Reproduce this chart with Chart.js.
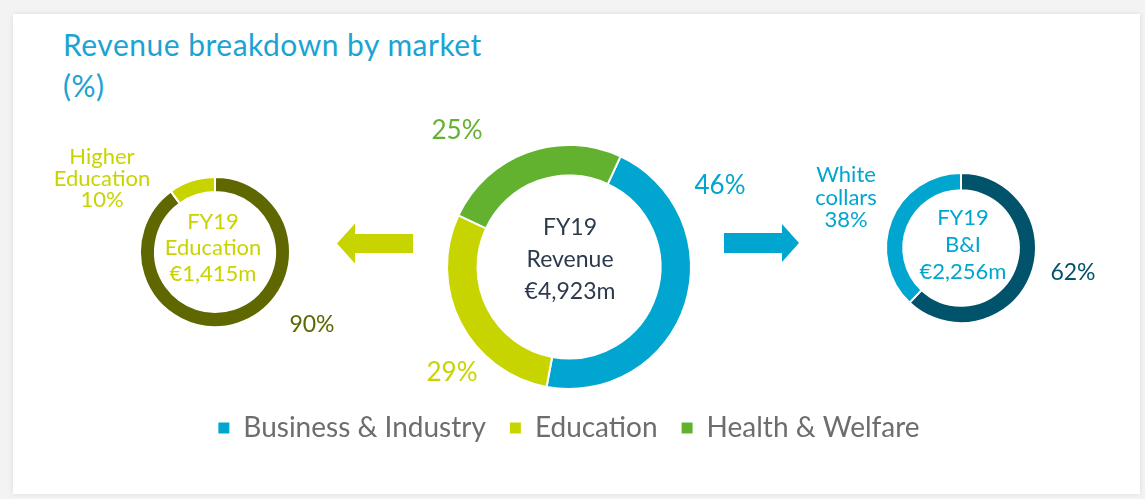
<!doctype html>
<html>

<head>
    <title>Revenue breakdown by market</title>
    <script src="https://cdn.jsdelivr.net/npm/chart.js@4/dist/chart.umd.min.js"></script>
    <style>
    html, body {
        margin: 0;
        padding: 0;
        width: 1145px;
        height: 499px;
        overflow: hidden;
        background: #f3f3f3;
        font-family: Lato, "Open Sans", sans-serif;
    }
    #card {
        position: absolute;
        left: 13px;
        top: 14px;
        width: 1127px;
        height: 480px;
        background: #fff;
        box-shadow: 0 0 5px rgba(0, 0, 0, 0.10);
    }
    #title {
        position: absolute;
        left: 63px;
        top: 24px;
        color: #1aa3d3;
        font-size: 30px;
        letter-spacing: 0.5px;
        line-height: 41px;
    }
    canvas {
        position: absolute;
    }
    </style>
</head>

<body>
    <div id="card"></div>
    <div id="title">Revenue breakdown by market<br>(%)</div>
    <canvas id="mainChart" width="1000" height="499" style="left:69px;top:0px"></canvas>
    <canvas id="eduChart" width="300" height="220" style="left:40px;top:140px"></canvas>
    <canvas id="bniChart" width="340" height="220" style="left:780px;top:140px"></canvas>
    <script>
    // FY19 revenue split by market (%)
    var marketLabels = ['Business & Industry', 'Education', 'Health & Welfare'];
    var marketShares = [46, 29, 25];
    var marketColors = ['#00a6cf', '#c8d400', '#63b22f'];

    // Education split (%)
    var eduLabels = ['Other', 'Higher Education'];
    var eduShares = [90, 10];
    var eduColors = ['#5e6700', '#c8d400'];

    // B&I split (%)
    var bniLabels = ['Other', 'White collars'];
    var bniShares = [62, 38];
    var bniColors = ['#00536a', '#00a6cf'];

    // revenue in € millions: total, education, B&I
    var revenueNames = ['Revenue', 'Education', 'B&I'];
    var revenueValues = [4923, 1415, 2256];

    var fontFamily = 'Lato, "Open Sans", sans-serif';

    function euro(v) {
        return '€' + v.toLocaleString('en-US') + 'm';
    }

    // draws text blocks and arrows relative to the doughnut centre
    var annotations = {
        id: 'annotations',
        afterDraw: function(chart, args, opts) {
            var arc = chart.getDatasetMeta(0).data[0];
            if (!arc) return;
            var cx = arc.x, cy = arc.y;
            var ctx = chart.ctx;
            ctx.save();
            (opts.arrows || []).forEach(function(a) {
                var y = cy + a.dy;
                ctx.fillStyle = a.color;
                ctx.beginPath();
                ctx.moveTo(cx + a.tail, y - a.body);
                ctx.lineTo(cx + a.base, y - a.body);
                ctx.lineTo(cx + a.base, y - a.head);
                ctx.lineTo(cx + a.tip, y);
                ctx.lineTo(cx + a.base, y + a.head);
                ctx.lineTo(cx + a.base, y + a.body);
                ctx.lineTo(cx + a.tail, y + a.body);
                ctx.closePath();
                ctx.fill();
            });
            ctx.textAlign = 'center';
            ctx.textBaseline = 'middle';
            (opts.items || []).forEach(function(item) {
                ctx.fillStyle = item.color;
                ctx.font = item.size + 'px ' + fontFamily;
                item.lines.forEach(function(line, i) {
                    ctx.fillText(line, cx + item.dx, cy + item.dy + i * item.lineHeight);
                });
            });
            ctx.restore();
        }
    };

    var defaultLabels = Chart.overrides.doughnut.plugins.legend.labels.generateLabels;

    new Chart(document.getElementById('mainChart'), {
        type: 'doughnut',
        data: {
            labels: marketLabels,
            datasets: [{
                data: marketShares,
                backgroundColor: marketColors,
                borderColor: '#ffffff',
                borderWidth: 2,
                hoverOffset: 0
            }]
        },
        options: {
            responsive: false,
            animation: false,
            cutout: '75%',
            rotation: 25,
            layout: {
                padding: { top: 144, bottom: 47, left: 0, right: 0 }
            },
            plugins: {
                tooltip: { enabled: false },
                legend: {
                    position: 'bottom',
                    labels: {
                        boxWidth: 11,
                        boxHeight: 11,
                        padding: 24,
                        color: '#6d6d6d',
                        font: { family: fontFamily, size: 28 },
                        generateLabels: function(chart) {
                            return defaultLabels(chart).map(function(l) {
                                l.lineWidth = 0;
                                return l;
                            });
                        }
                    }
                },
                annotations: {
                    items: [
                        { lines: ['FY19', revenueNames[0], euro(revenueValues[0])], dx: 1, dy: -39, lineHeight: 32, size: 23, color: '#2d3a4c' },
                        { lines: [marketShares[0] + '%'], dx: 151, dy: -81, lineHeight: 0, size: 26, color: marketColors[0] },
                        { lines: [marketShares[1] + '%'], dx: -117, dy: 106, lineHeight: 0, size: 26, color: marketColors[1] },
                        { lines: [marketShares[2] + '%'], dx: -112, dy: -136, lineHeight: 0, size: 26, color: marketColors[2] }
                    ],
                    arrows: [
                        { tail: -156, base: -214, tip: -232, dy: -23.5, body: 9.5, head: 20, color: marketColors[1] },
                        { tail: 155, base: 213, tip: 230, dy: -24, body: 10, head: 19, color: marketColors[0] }
                    ]
                }
            }
        },
        plugins: [annotations]
    });

    new Chart(document.getElementById('eduChart'), {
        type: 'doughnut',
        data: {
            labels: eduLabels,
            datasets: [{
                data: eduShares,
                backgroundColor: eduColors,
                borderColor: '#ffffff',
                borderWidth: 2,
                hoverOffset: 0
            }]
        },
        options: {
            responsive: false,
            animation: false,
            cutout: '80%',
            layout: {
                padding: { left: 99, right: 49, top: 36, bottom: 32 }
            },
            plugins: {
                tooltip: { enabled: false },
                legend: { display: false },
                annotations: {
                    items: [
                        { lines: ['FY19', revenueNames[1], euro(revenueValues[1])], dx: -2, dy: -30, lineHeight: 26, size: 22, color: eduColors[1] },
                        { lines: ['Higher', 'Education', eduShares[1] + '%'], dx: -113, dy: -95, lineHeight: 21.5, size: 22, color: eduColors[1] },
                        { lines: [eduShares[0] + '%'], dx: 97, dy: 73, lineHeight: 0, size: 23, color: eduColors[0] }
                    ]
                }
            }
        },
        plugins: [annotations]
    });

    new Chart(document.getElementById('bniChart'), {
        type: 'doughnut',
        data: {
            labels: bniLabels,
            datasets: [{
                data: bniShares,
                backgroundColor: bniColors,
                borderColor: '#ffffff',
                borderWidth: 2,
                hoverOffset: 0
            }]
        },
        options: {
            responsive: false,
            animation: false,
            cutout: '77%',
            layout: {
                padding: { left: 105, right: 83, top: 32, bottom: 36 }
            },
            plugins: {
                tooltip: { enabled: false },
                legend: { display: false },
                annotations: {
                    items: [
                        { lines: ['FY19', revenueNames[2], euro(revenueValues[2])], dx: 2, dy: -30, lineHeight: 27, size: 22, color: bniColors[1] },
                        { lines: ['White', 'collars', bniShares[1] + '%'], dx: -115, dy: -73, lineHeight: 22.5, size: 22, color: bniColors[1] },
                        { lines: [bniShares[0] + '%'], dx: 112, dy: 25, lineHeight: 0, size: 23, color: bniColors[0] }
                    ]
                }
            }
        },
        plugins: [annotations]
    });
    </script>
</body>

</html>
